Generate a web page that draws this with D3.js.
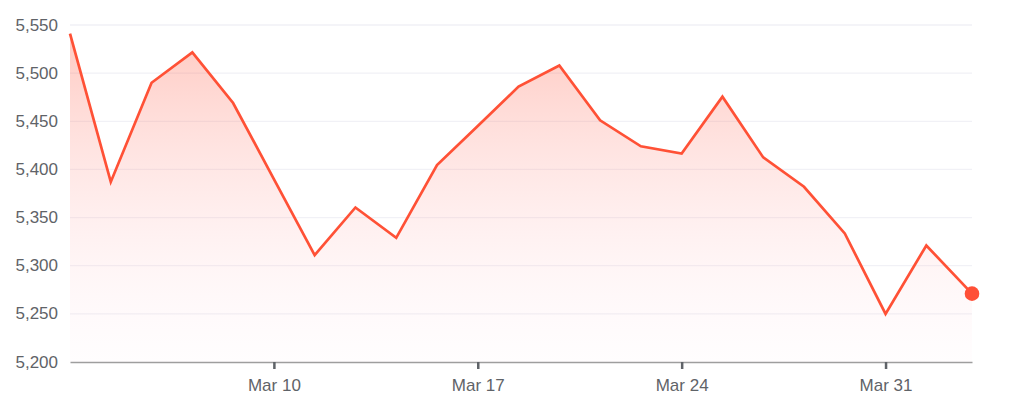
<!DOCTYPE html>
<html>
<head>
<meta charset="utf-8">
<script src="https://cdn.jsdelivr.net/npm/d3@7"></script>
<style>
  html, body { margin: 0; padding: 0; background: #fff; }
  svg { display: block; font-family: Roboto, "Noto Sans", sans-serif; }
  .axis text { fill: #5f6368; font-size: 17px; }
</style>
</head>
<body>
<svg></svg>
<script>
// trading days, Mar 3 - Apr 2 (last one is the live quote)
const days = [
  "Mar 3", "Mar 4", "Mar 5", "Mar 6", "Mar 7",
  "Mar 10", "Mar 11", "Mar 12", "Mar 13", "Mar 14",
  "Mar 17", "Mar 18", "Mar 19", "Mar 20", "Mar 21",
  "Mar 24", "Mar 25", "Mar 26", "Mar 27", "Mar 28",
  "Mar 31", "Apr 1", "Apr 2",
];
const prices = [
  5541, 5387, 5490, 5521.5, 5469,
  5390, 5311, 5360.5, 5329, 5404.5,
  5445, 5486, 5508, 5451, 5424,
  5416.5, 5475.5, 5412.5, 5382, 5333.5,
  5250, 5321, 5271,
];
const xTicks = ["Mar 10", "Mar 17", "Mar 24", "Mar 31"];
const yTicks = [5200, 5250, 5300, 5350, 5400, 5450, 5500, 5550];

const margin = { top: 25, right: 37, bottom: 56, left: 70 },
  width = 1009 - margin.left - margin.right,
  height = 418 - margin.top - margin.bottom;

const svg = d3
  .select("svg")
  .attr("width", width + margin.left + margin.right)
  .attr("height", height + margin.top + margin.bottom);

const g = svg
  .append("g")
  .attr("transform", "translate(" + margin.left + "," + margin.top + ")");

// position by trading-day index; the live quote sits a bit past its day slot
const x = d3
  .scaleLinear()
  .domain([0, days.length - 1 + 0.12])
  .range([0, width]);

const y = d3.scaleLinear().domain([5200, 5550]).range([height, 0]);

const data = prices.map(function (p, i) {
  return { i: i === prices.length - 1 ? i + 0.12 : i, day: days[i], price: p };
});

// gradient under the line
const grad = svg
  .append("defs")
  .append("linearGradient")
  .attr("id", "fill")
  .attr("gradientUnits", "userSpaceOnUse")
  .attr("x1", 0)
  .attr("x2", 0)
  .attr("y1", y(d3.max(prices)))
  .attr("y2", y(5200));
grad.append("stop").attr("offset", "0%").attr("stop-color", "#ff5a40").attr("stop-opacity", 0.32);
grad.append("stop").attr("offset", "100%").attr("stop-color", "#ffd6e6").attr("stop-opacity", 0.05);

// grid
g.append("g")
  .selectAll("line")
  .data(yTicks.slice(1))
  .enter()
  .append("line")
  .attr("x1", 0)
  .attr("x2", width)
  .attr("y1", function (d) { return y(d); })
  .attr("y2", function (d) { return y(d); })
  .attr("stroke", "#f1f1f6")
  .attr("stroke-width", 1.3);

g.append("path")
  .datum(data)
  .attr("fill", "url(#fill)")
  .attr(
    "d",
    d3.area()
      .x(function (d) { return x(d.i); })
      .y0(height)
      .y1(function (d) { return y(d.price); })
  );

g.append("path")
  .datum(data)
  .attr("fill", "none")
  .attr("stroke", "#ff5136")
  .attr("stroke-width", 2.7)
  .attr("stroke-linejoin", "miter")
  .attr(
    "d",
    d3.line()
      .x(function (d) { return x(d.i); })
      .y(function (d) { return y(d.price); })
  );

const last = data[data.length - 1];
g.append("circle")
  .attr("cx", x(last.i))
  .attr("cy", y(last.price))
  .attr("r", 7.3)
  .attr("fill", "#ff4f36");

// axes
const xAxis = d3
  .axisBottom(x)
  .tickValues(xTicks.map(function (d) { return days.indexOf(d); }))
  .tickFormat(function (d) { return days[d]; })
  .tickSize(7)
  .tickSizeOuter(0)
  .tickPadding(10);

const xg = g
  .append("g")
  .attr("class", "x axis")
  .attr("transform", "translate(0," + height + ")")
  .call(xAxis);
xg.select(".domain").attr("stroke", "#9e9e9e").attr("stroke-width", 1.6);
xg.selectAll(".tick line").attr("stroke", "#5f6368").attr("stroke-width", 2.5);

const yAxis = d3
  .axisLeft(y)
  .tickValues(yTicks)
  .tickFormat(d3.format(","))
  .tickSize(0)
  .tickPadding(12);

const yg = g.append("g").attr("class", "y axis").call(yAxis);
yg.select(".domain").remove();
yg.selectAll("text").attr("dy", "0.3em");
</script>
</body>
</html>
